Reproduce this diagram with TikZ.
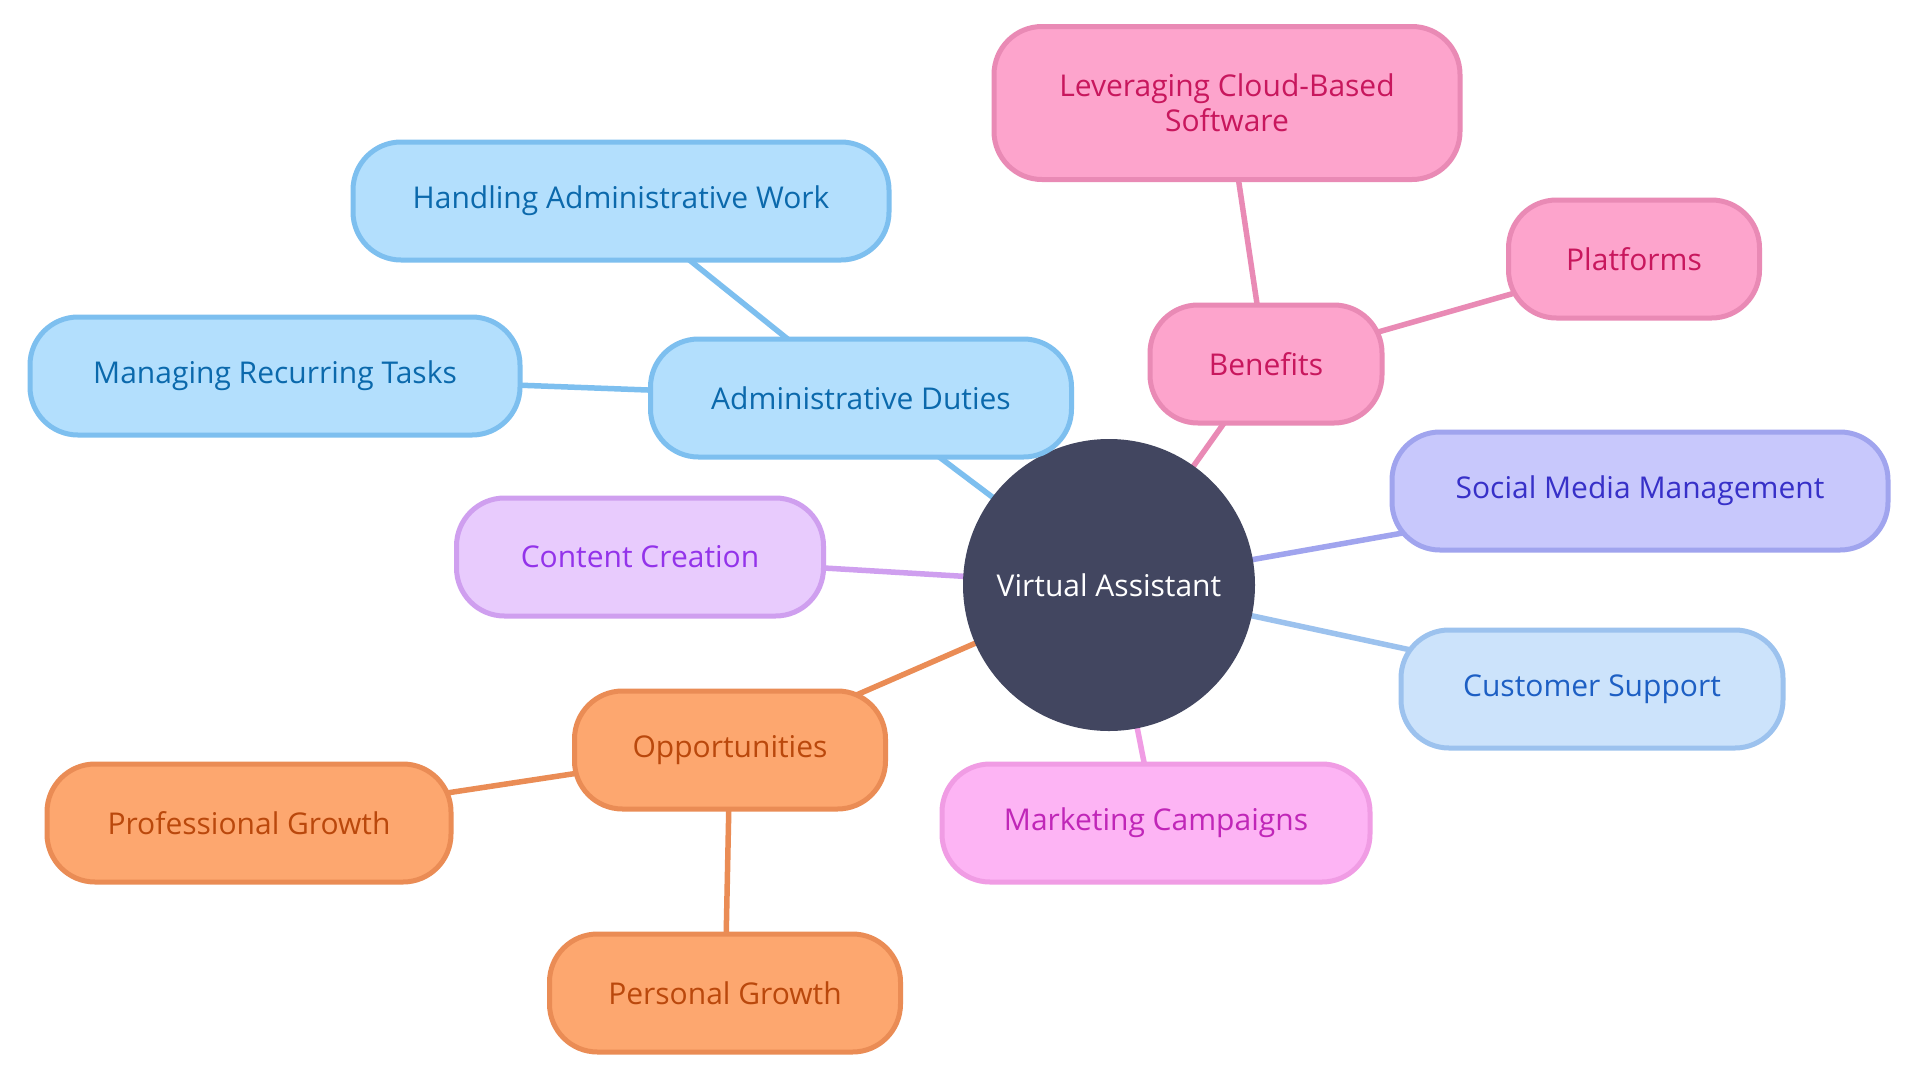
\documentclass[tikz,border=0pt]{standalone}
\usepackage{fontspec}
\setmainfont{Open Sans}
\usetikzlibrary{backgrounds}
\definecolor{ctrfill}{HTML}{424660}
\definecolor{bluefill}{HTML}{B3DFFD}\definecolor{bluedraw}{HTML}{7DBFEF}\definecolor{bluetext}{HTML}{0B69AC}
\definecolor{pinkfill}{HTML}{FDA4CC}\definecolor{pinkdraw}{HTML}{E98AB5}\definecolor{pinktext}{HTML}{C8175D}
\definecolor{purpfill}{HTML}{E8CBFD}\definecolor{purpdraw}{HTML}{CF9FEF}\definecolor{purptext}{HTML}{9333EA}
\definecolor{orfill}{HTML}{FDA76F}\definecolor{ordraw}{HTML}{EA8C55}\definecolor{ortext}{HTML}{BA480C}
\definecolor{magfill}{HTML}{FDB4F4}\definecolor{magdraw}{HTML}{F09CE4}\definecolor{magtext}{HTML}{C026B8}
\definecolor{lbfill}{HTML}{CCE3FB}\definecolor{lbdraw}{HTML}{9CC2EE}\definecolor{lbtext}{HTML}{1D5FC4}
\definecolor{indfill}{HTML}{C8C8FC}\definecolor{inddraw}{HTML}{A0A4EE}\definecolor{indtext}{HTML}{3730C8}
\tikzset{
  x=1pt, y=-1pt,
  leaf/.style={rectangle, rounded corners=48pt, line width=5pt, minimum height=118pt,
    font=\fontsize{30}{35}\selectfont, align=center, inner sep=0pt},
  blueb/.style={leaf, fill=bluefill, draw=bluedraw, text=bluetext},
  pinkb/.style={leaf, fill=pinkfill, draw=pinkdraw, text=pinktext},
  purpb/.style={leaf, fill=purpfill, draw=purpdraw, text=purptext},
  orb/.style={leaf, fill=orfill, draw=ordraw, text=ortext},
  magb/.style={leaf, fill=magfill, draw=magdraw, text=magtext},
  lbb/.style={leaf, fill=lbfill, draw=lbdraw, text=lbtext},
  indb/.style={leaf, fill=indfill, draw=inddraw, text=indtext},
  edge/.style={line width=5.5pt}
}
\begin{document}
\begin{tikzpicture}
\useasboundingbox (0,0) rectangle (1920,1080);
\node[circle, fill=ctrfill, minimum size=292pt, inner sep=0pt, text=white, font=\fontsize{30}{35}\selectfont] (va) at (1109,585) {Virtual Assistant};
\node[blueb, minimum width=421pt] (ad) at (861,398) {Administrative Duties};
\node[blueb, minimum width=536pt] (haw) at (621,201) {Handling Administrative Work};
\node[blueb, minimum width=490pt] (mrt) at (275,376) {Managing Recurring Tasks};
\node[purpb, minimum width=367pt] (cc) at (640,557) {Content Creation};
\node[orb, minimum width=311pt] (op) at (730,750) {Opportunities};
\node[orb, minimum width=404pt] (pg) at (249,823) {Professional Growth};
\node[orb, minimum width=351pt] (pe) at (725,993) {Personal Growth};
\node[magb, minimum width=428pt] (mc) at (1156,823) {Marketing Campaigns};
\node[lbb, minimum width=382pt] (cs) at (1592,689) {Customer Support};
\node[indb, minimum width=496pt] (sm) at (1640,491) {Social Media Management};
\node[pinkb, minimum width=232pt] (be) at (1266,364) {Benefits};
\node[pinkb, minimum width=251pt] (pl) at (1634,259) {Platforms};
\node[pinkb, minimum width=466pt, minimum height=153pt] (lc) at (1227,103) {Leveraging Cloud-Based\\Software};
\begin{scope}[on background layer]
\fill[white] (0,0) rectangle (1920,1080);
\draw[edge, bluedraw] (va.center) -- (ad.center);
\draw[edge, bluedraw] (ad.center) -- ([xshift=-5pt]haw.center);
\draw[edge, bluedraw] (ad.center) -- (mrt.center);
\draw[edge, purpdraw] (va.center) -- (cc.center);
\draw[edge, ordraw] (va.center) -- (op.center);
\draw[edge, ordraw] (op.center) -- (pg.center);
\draw[edge, ordraw] (op.center) -- (pe.center);
\draw[edge, magdraw] (va.center) -- (mc.center);
\draw[edge, lbdraw] (va.center) -- (cs.center);
\draw[edge, inddraw] (va.center) -- (sm.center);
\draw[edge, pinkdraw] (va.center) -- (be.center);
\draw[edge, pinkdraw] (be.center) -- (pl.center);
\draw[edge, pinkdraw] (be.center) -- (lc.center);
\end{scope}
\end{tikzpicture}
\end{document}
